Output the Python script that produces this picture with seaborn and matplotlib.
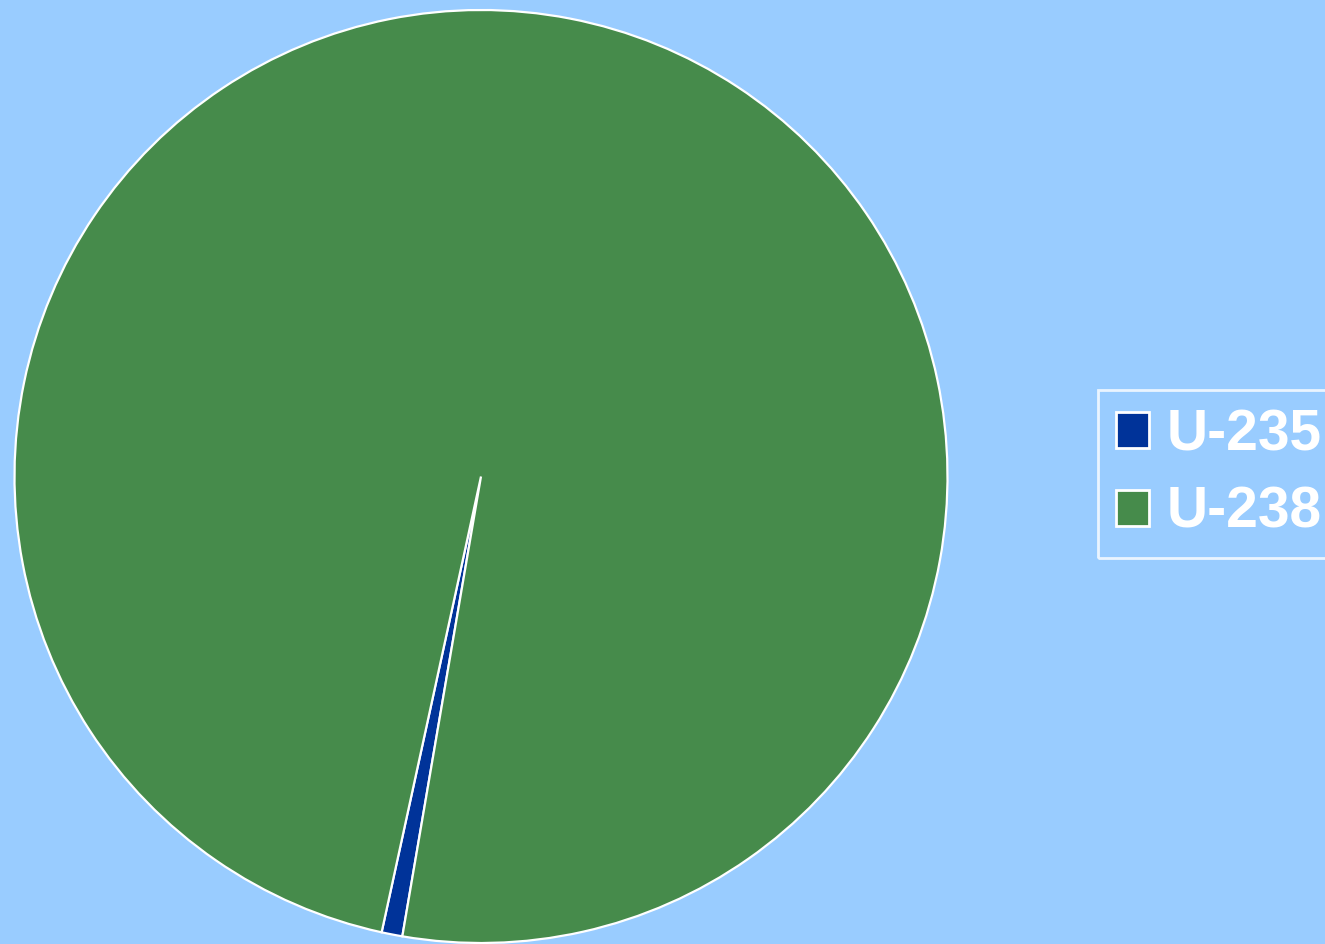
import matplotlib
matplotlib.use("Agg")
import matplotlib.pyplot as plt
import seaborn as sns

sns.set_style("white")
plt.rcParams['font.family'] = ['Liberation Sans', 'DejaVu Sans']

# isotope share of natural uranium (%)
isotopes = ["U-235", "U-238"]
shares = [0.72, 99.28]
colors = ["#003399", "#468B4B"]
bg = "#99CCFF"

fig = plt.figure(figsize=(13.25, 9.44), dpi=100, facecolor=bg)
ax = fig.add_axes([14 / 1325, 1 / 944, 934 / 1325, 933 / 944])
ax.set_facecolor(bg)

wedges, _ = ax.pie(shares, colors=colors, startangle=257.7, counterclock=True,
                   wedgeprops=dict(edgecolor="white", linewidth=1.6))
ax.set_xlim(-1.0, 1.0)
ax.set_ylim(-1.0, 1.0)
ax.set_aspect("equal")
ax.axis("off")

leg = fig.legend(wedges, isotopes, loc="center left",
                 bbox_to_anchor=(1098 / 1325, 1 - 474 / 944),
                 prop=dict(size=41, weight="bold"), labelcolor="white",
                 frameon=True, fancybox=False, facecolor="none", edgecolor="white",
                 handlelength=0.58, handleheight=0.58, handletextpad=0.3,
                 labelspacing=0.42, borderpad=0.32, borderaxespad=0)
leg.get_frame().set_linewidth(2)
for h in leg.legend_handles:
    h.set_edgecolor("white")
    h.set_linewidth(2)

fig.savefig("out.png", dpi=100, facecolor=bg)
